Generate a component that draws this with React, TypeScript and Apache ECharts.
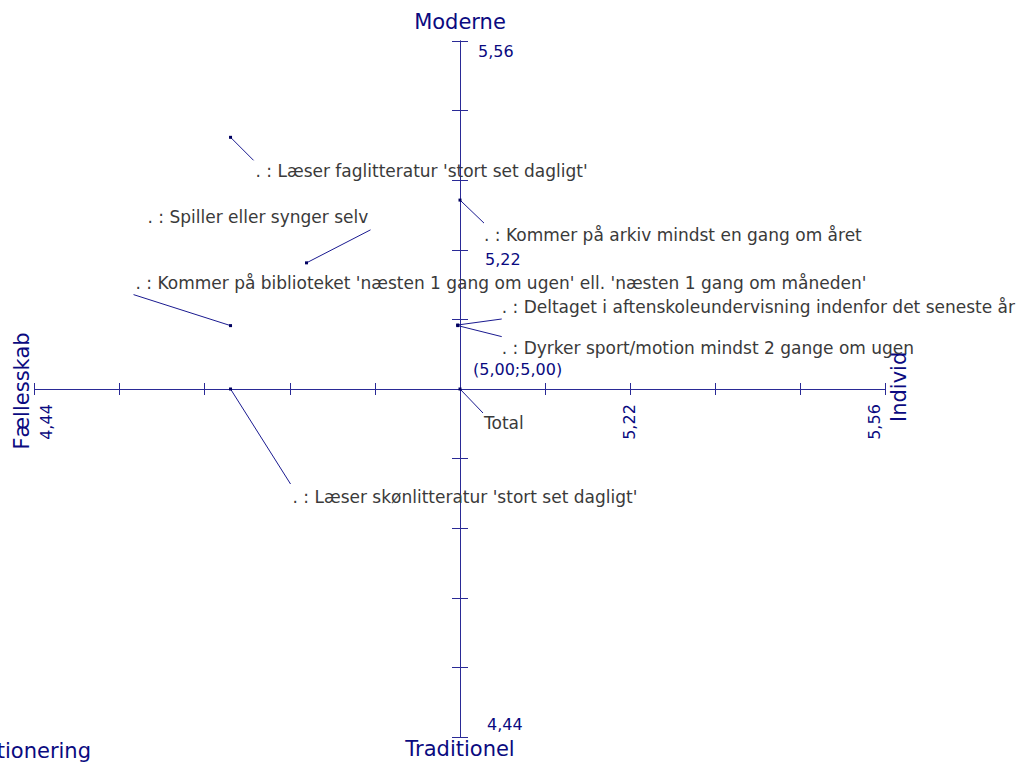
import React, { useEffect, useRef } from "react";
import * as echarts from "echarts";

// ---- scale (real units) ----
const CENTER = 5;
const STEP = 0.112; // one tick
const HALF_TICKS = 5;

// ---- data ----
const CATEGORIES = [
  ". : Læser faglitteratur 'stort set dagligt'",
  ". : Kommer på arkiv mindst en gang om året",
  ". : Spiller eller synger selv",
  ". : Kommer på biblioteket 'næsten 1 gang om ugen' ell. 'næsten 1 gang om måneden'",
  ". : Deltaget i aftenskoleundervisning indenfor det seneste år",
  ". : Dyrker sport/motion mindst 2 gange om ugen",
  "Total",
  ". : Læser skønlitteratur 'stort set dagligt'",
];
const X_VALUES = [4.698, 5.0, 4.798, 4.698, 4.997, 4.997, 5.0, 4.698];
const Y_VALUES = [5.405, 5.304, 5.203, 5.102, 5.103, 5.102, 5.0, 5.0];

const X_TICK_VALUES = [4.44, 5.224, 5.56];
const Y_TICK_VALUES = [5.56, 5.224, 4.44];
const ORIGIN_LABEL = "(5,00;5,00)";
const POLE_TOP = "Moderne";
const POLE_BOTTOM = "Traditionel";
const POLE_LEFT = "Fællesskab";
const POLE_RIGHT = "Individ";
const TITLE = "Positionering";

// ---- layout (pixel offsets, styles) ----
const LEADER_END = [[23, 23], [24, 23], [64, -33], [-97, -31], [44, -6], [44, 11], [23, 24], [60, 95]];
const LABEL_AT = [[25, 34], [24, 35], [-159, -46], [-95, -43], [44, -18], [44, 22], [24, 34], [62, 108]];
const X_TICK_LAYOUT = [[12, 33], [-1, 33], [-11, 33]];
const Y_TICK_LAYOUT = [[18, 10], [25, 10], [27, -13]];
const ORIGIN_LAYOUT = [13, -20];

const NAVY = "#0a0a80";
const AXIS_COLOR = "#2a2a96";
const LEADER_COLOR = "#1a1a90";
const POINT_COLOR = "#000060";
const TEXT_GRAY = "#3a3a3a";
const FF = '"DejaVu Sans", sans-serif';
const FONT_LABEL = `17px ${FF}`;
const FONT_TICK = `16px ${FF}`;
const FONT_POLE = `21px ${FF}`;

const toTick = (v: number) => (v - CENTER) / STEP;
const fmt = (v: number) => v.toFixed(2).replace(".", ",");

type TextItem = {
  at: [number, number];
  text: string;
  dx: number;
  dy: number;
  rot: number;
  align: string;
  vAlign: string;
  font: string;
  fill: string;
};

function buildTextItems(): TextItem[] {
  const items: TextItem[] = [];
  X_TICK_VALUES.forEach((v, i) => {
    items.push({
      at: [toTick(v), 0], text: fmt(v), dx: X_TICK_LAYOUT[i][0], dy: X_TICK_LAYOUT[i][1],
      rot: Math.PI / 2, align: "center", vAlign: "middle", font: FONT_TICK, fill: NAVY,
    });
  });
  Y_TICK_VALUES.forEach((v, i) => {
    items.push({
      at: [0, toTick(v)], text: fmt(v), dx: Y_TICK_LAYOUT[i][0], dy: Y_TICK_LAYOUT[i][1],
      rot: 0, align: "left", vAlign: "middle", font: FONT_TICK, fill: NAVY,
    });
  });
  items.push({ at: [0, 0], text: ORIGIN_LABEL, dx: ORIGIN_LAYOUT[0], dy: ORIGIN_LAYOUT[1], rot: 0, align: "left", vAlign: "middle", font: FONT_TICK, fill: NAVY });
  items.push({ at: [0, HALF_TICKS], text: POLE_TOP, dx: 0, dy: -19, rot: 0, align: "center", vAlign: "middle", font: FONT_POLE, fill: NAVY });
  items.push({ at: [0, -HALF_TICKS], text: POLE_BOTTOM, dx: 0, dy: 12, rot: 0, align: "center", vAlign: "middle", font: FONT_POLE, fill: NAVY });
  items.push({ at: [-HALF_TICKS, 0], text: POLE_LEFT, dx: -13, dy: 2, rot: Math.PI / 2, align: "center", vAlign: "middle", font: FONT_POLE, fill: NAVY });
  items.push({ at: [HALF_TICKS, 0], text: POLE_RIGHT, dx: 13, dy: 33, rot: Math.PI / 2, align: "left", vAlign: "middle", font: FONT_POLE, fill: NAVY });
  return items;
}

function axisBase(position: string, tickLen: number) {
  return {
    type: "value",
    min: -HALF_TICKS,
    max: HALF_TICKS,
    interval: 1,
    position,
    axisLine: { show: true, onZero: true, onZeroAxisIndex: 0, lineStyle: { color: AXIS_COLOR, width: 1 } },
    axisTick: { show: true, length: tickLen, inside: false, lineStyle: { color: AXIS_COLOR, width: 1 } },
    axisLabel: { show: false },
    splitLine: { show: false },
  };
}

export default function App() {
  const ref = useRef<HTMLDivElement | null>(null);

  useEffect(() => {
    if (!ref.current) return;
    const chart = echarts.init(ref.current, undefined, { renderer: "svg" });
    const textItems = buildTextItems();
    const pointData = X_VALUES.map((x, i) => [toTick(x), toTick(Y_VALUES[i])]);

    const option: any = {
      animation: false,
      backgroundColor: "#ffffff",
      grid: { left: 34.5, right: 145.5, top: 41, bottom: 26, containLabel: false },
      xAxis: [axisBase("bottom", 6), axisBase("top", 6)],
      yAxis: [axisBase("left", 8), axisBase("right", 8)],
      graphic: [
        {
          type: "text",
          x: 91,
          y: 751,
          style: { text: TITLE, fill: NAVY, font: FONT_POLE, align: "right", verticalAlign: "middle", textAlign: "right", textVerticalAlign: "middle" },
        },
      ],
      series: [
        {
          type: "custom",
          name: "axisTexts",
          coordinateSystem: "cartesian2d",
          xAxisIndex: 0,
          yAxisIndex: 0,
          clip: false,
          silent: true,
          data: textItems.map((t) => t.at),
          renderItem: (params: any, api: any) => {
            const t = textItems[params.dataIndex];
            const p = api.coord([api.value(0), api.value(1)]);
            return {
              type: "text",
              x: p[0] + t.dx,
              y: p[1] + t.dy,
              rotation: t.rot,
              style: {
                text: t.text,
                fill: t.fill,
                font: t.font,
                align: t.align,
                verticalAlign: t.vAlign,
                textAlign: t.align,
                textVerticalAlign: t.vAlign,
              },
            };
          },
        },
        {
          type: "custom",
          name: "points",
          coordinateSystem: "cartesian2d",
          xAxisIndex: 0,
          yAxisIndex: 0,
          clip: false,
          silent: true,
          data: pointData,
          renderItem: (params: any, api: any) => {
            const i = params.dataIndex;
            const p = api.coord([api.value(0), api.value(1)]);
            const [lx, ly] = LEADER_END[i];
            const [tx, ty] = LABEL_AT[i];
            return {
              type: "group",
              children: [
                {
                  type: "line",
                  shape: { x1: p[0], y1: p[1], x2: p[0] + lx, y2: p[1] + ly },
                  style: { stroke: LEADER_COLOR, lineWidth: 1 },
                },
                {
                  type: "rect",
                  shape: { x: p[0] - 1.5, y: p[1] - 1.5, width: 3, height: 3 },
                  style: { fill: POINT_COLOR },
                },
                {
                  type: "text",
                  x: p[0] + tx,
                  y: p[1] + ty,
                  style: {
                    text: CATEGORIES[i],
                    fill: TEXT_GRAY,
                    font: FONT_LABEL,
                    align: "left",
                    verticalAlign: "middle",
                    textAlign: "left",
                    textVerticalAlign: "middle",
                  },
                },
              ],
            };
          },
        },
      ],
    };
    chart.setOption(option);
    return () => {
      chart.dispose();
    };
  }, []);

  return (
    <div
      ref={ref}
      style={{ position: "absolute", left: 0, top: 0, width: 1031, height: 763, overflow: "hidden" }}
    />
  );
}
